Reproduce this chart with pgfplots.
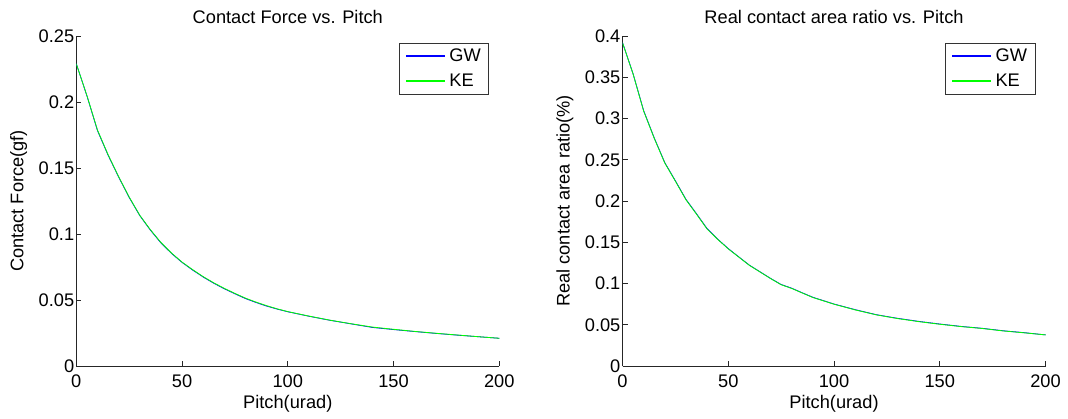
\documentclass[border=0pt]{standalone}
\usepackage{fontspec}
\setmainfont{Liberation Sans}
\usepackage{pgfplots}
\pgfplotsset{compat=1.18}

\definecolor{mblue}{rgb}{0,0,1}
\definecolor{mgreen}{rgb}{0,1,0}
\newcommand{\mfont}{\fontsize{18.3}{21}\selectfont}

\pgfplotsset{
  matlab/.style={
    scale only axis,
    width=423bp, height=330bp,
    axis x line*=bottom, axis y line*=left,
    axis line style={black!85, line width=0.8bp, -},
    tick align=inside,
    major tick length=5bp,
    tick style={black!85, line width=0.8bp},
    xmin=0, xmax=200, xtick={0,50,100,150,200},
    ymin=0,
    /pgf/number format/assume math mode=true,
    tick label style={font=\mfont},
    xticklabel style={anchor=base, yshift=-21bp},
    yticklabel style={xshift=1.4bp, /pgf/number format/fixed, /pgf/number format/precision=2},
    every axis title/.style={at={(axis description cs:0.5,1)}, anchor=base, yshift=12.7bp, font=\mfont},
    every axis y label/.style={at={(axis description cs:0,0.5)}, xshift=-57.7bp, rotate=90, anchor=center, font=\mfont},
    every axis x label/.style={at={(axis description cs:0.5,0)}, anchor=base, yshift=-42bp, font=\mfont},
    legend cell align=left,
    legend style={at={(0.976,0.978)}, anchor=north east,
      draw=black!80, line width=0.8bp, font=\mfont,
      inner xsep=6bp, inner ysep=3.5bp, row sep=7bp, column sep=2bp,
      nodes={inner sep=2bp}},
    legend image code/.code={\draw[#1, line width=1.3bp] (0bp,0.4bp) -- (38.5bp,0.4bp);},
  }
}

\begin{document}
\begin{tikzpicture}
\useasboundingbox (-76.3bp,-53bp) rectangle (991.7bp,366bp);

\begin{axis}[matlab, at={(0,0)}, anchor=south west,
  ymax=0.25, ytick={0,0.05,0.1,0.15,0.2,0.25},
  title={Contact Force vs. Pitch},
  xlabel={Pitch(urad)}, ylabel={Contact Force(gf)}]
\addplot[draw=mblue, line width=0.8bp] coordinates {
(0,0.2290) (5,0.2048) (10,0.1784) (15,0.1598) (20,0.1432) (25,0.1277)
(30,0.1140) (35,0.1030) (40,0.0933) (45,0.0853) (50,0.0785) (55,0.0727)
(60,0.0674) (65,0.0627) (70,0.0585) (75,0.0547) (80,0.0511) (85,0.0481)
(90,0.0454) (95,0.0431) (100,0.0411) (110,0.0377) (120,0.0346)
(130,0.0319) (140,0.0292) (150,0.0276) (160,0.0261) (170,0.0247)
(180,0.0234) (190,0.0222) (200,0.0210)};
\addlegendentry{GW}
\addplot[draw=mgreen, line width=0.8bp] coordinates {
(0,0.2290) (5,0.2050) (10,0.1788) (15,0.1602) (20,0.1435) (25,0.1280)
(30,0.1142) (35,0.1033) (40,0.0936) (45,0.0856) (50,0.0787) (55,0.0730)
(60,0.0677) (65,0.0630) (70,0.0588) (75,0.0550) (80,0.0514) (85,0.0484)
(90,0.0457) (95,0.0433) (100,0.0412) (110,0.0378) (120,0.0347)
(130,0.0320) (140,0.0295) (150,0.0278) (160,0.0262) (170,0.0248)
(180,0.0235) (190,0.0222) (200,0.0210)};
\addlegendentry{KE}
\end{axis}

\begin{axis}[matlab, at={(546.2bp,0)}, anchor=south west,
  ymax=0.4, ytick={0,0.05,0.1,0.15,0.2,0.25,0.3,0.35,0.4},
  title={Real contact area ratio vs. Pitch},
  xlabel={Pitch(urad)}, ylabel={Real contact area ratio(\%)}]
\addplot[draw=mblue, line width=0.8bp] coordinates {
(0,0.3920) (5,0.3542) (10,0.3095) (15,0.2765) (20,0.2465) (25,0.2245)
(30,0.2020) (35,0.1845) (40,0.1665) (45,0.1538) (50,0.1423) (55,0.1322)
(60,0.1222) (65,0.1142) (70,0.1062) (75,0.0988) (80,0.0943) (85,0.0887)
(90,0.0833) (95,0.0792) (100,0.0751) (110,0.0683) (120,0.0622)
(130,0.0578) (140,0.0541) (150,0.0509) (160,0.0480) (170,0.0457)
(180,0.0427) (190,0.0404) (200,0.0377)};
\addlegendentry{GW}
\addplot[draw=mgreen, line width=0.8bp] coordinates {
(0,0.3920) (5,0.3540) (10,0.3090) (15,0.2760) (20,0.2460) (25,0.2240)
(30,0.2015) (35,0.1840) (40,0.1660) (45,0.1535) (50,0.1420) (55,0.1320)
(60,0.1220) (65,0.1140) (70,0.1060) (75,0.0985) (80,0.0940) (85,0.0885)
(90,0.0830) (95,0.0790) (100,0.0749) (110,0.0680) (120,0.0620)
(130,0.0575) (140,0.0538) (150,0.0506) (160,0.0478) (170,0.0455)
(180,0.0425) (190,0.0402) (200,0.0377)};
\addlegendentry{KE}
\end{axis}
\end{tikzpicture}
\end{document}
